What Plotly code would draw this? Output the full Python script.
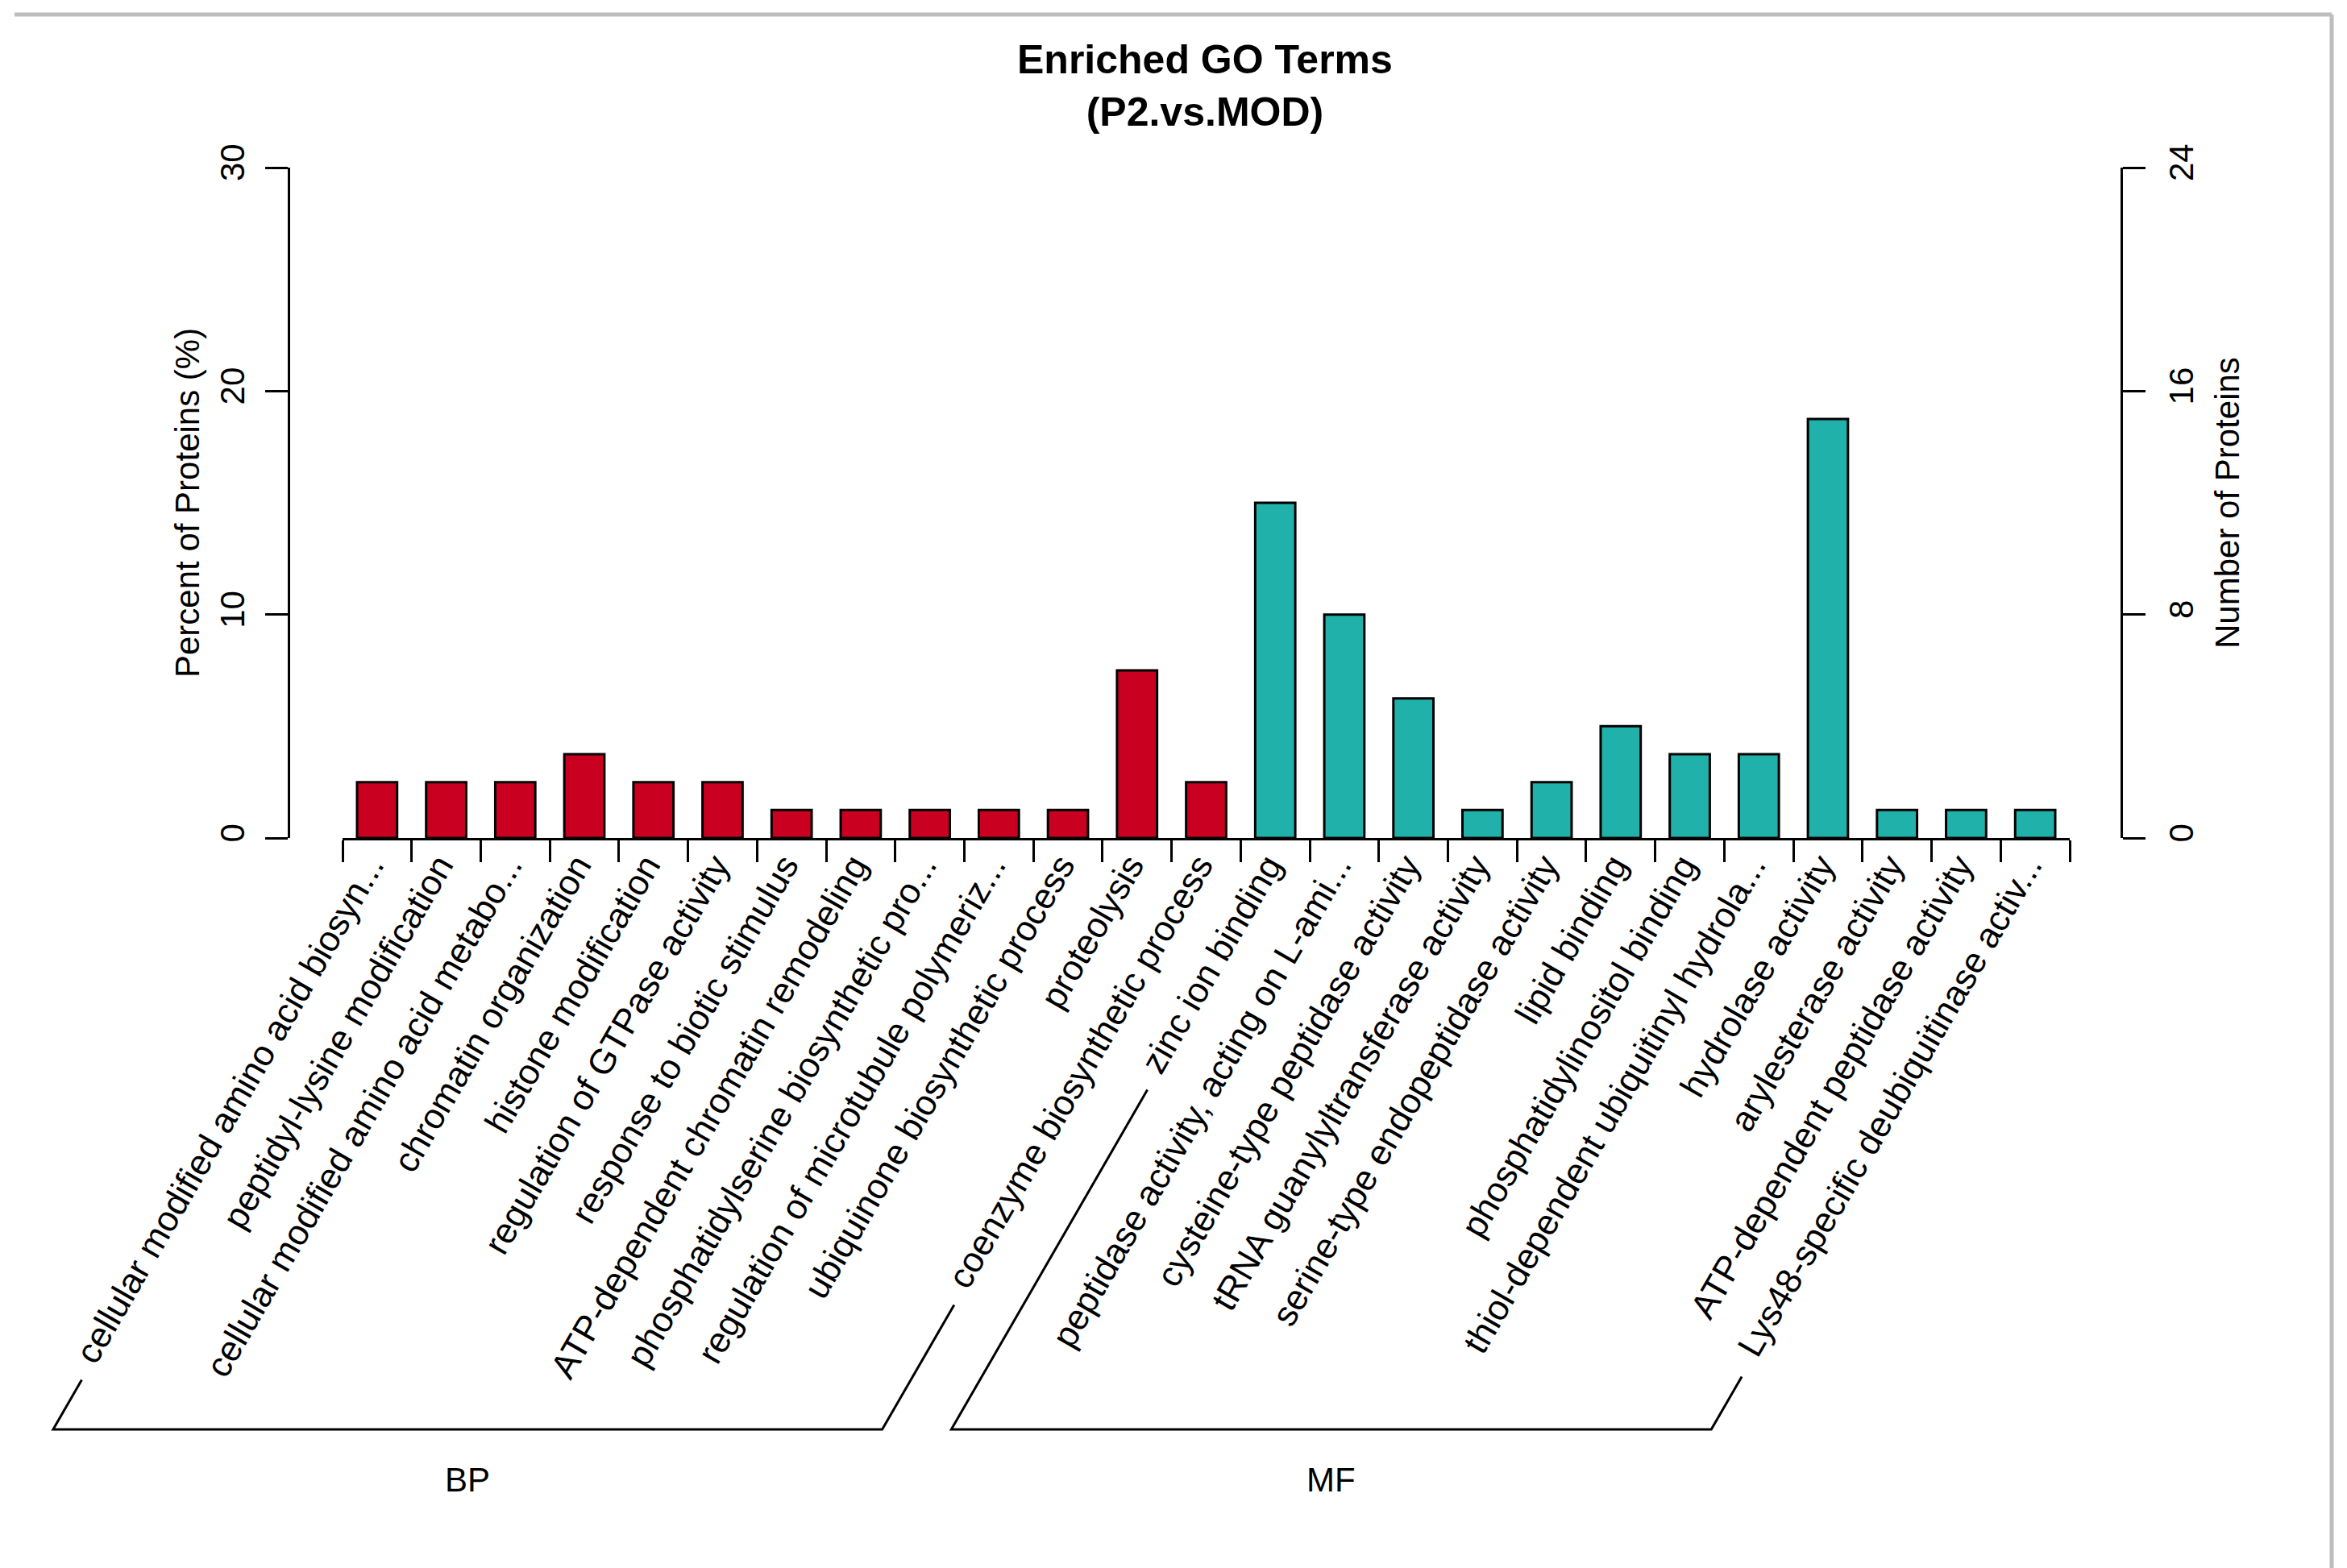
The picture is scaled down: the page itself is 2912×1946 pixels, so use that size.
import math
import plotly.graph_objects as go

# ---------------- data ----------------
terms = [
    "cellular modified amino acid biosyn...",
    "peptidyl-lysine modification",
    "cellular modified amino acid metabo...",
    "chromatin organization",
    "histone modification",
    "regulation of GTPase activity",
    "response to biotic stimulus",
    "ATP-dependent chromatin remodeling",
    "phosphatidylserine biosynthetic pro...",
    "regulation of microtubule polymeriz...",
    "ubiquinone biosynthetic process",
    "proteolysis",
    "coenzyme biosynthetic process",
    "zinc ion binding",
    "peptidase activity, acting on L-ami...",
    "cysteine-type peptidase activity",
    "tRNA guanylyltransferase activity",
    "serine-type endopeptidase activity",
    "lipid binding",
    "phosphatidylinositol binding",
    "thiol-dependent ubiquitinyl hydrola...",
    "hydrolase activity",
    "arylesterase activity",
    "ATP-dependent peptidase activity",
    "Lys48-specific deubiquitinase activ...",
]
groups = ["BP"] * 13 + ["MF"] * 12
percent = [2.5, 2.5, 2.5, 3.75, 2.5, 2.5, 1.25, 1.25, 1.25, 1.25, 1.25, 7.5, 2.5,
           15.0, 10.0, 6.25, 1.25, 2.5, 5.0, 3.75, 3.75, 18.75, 1.25, 1.25, 1.25]
left_ticks = [0, 10, 20, 30]
right_ticks = [0, 8, 16, 24]
group_names = ["BP", "MF"]

# ---------------- styles / layout constants ----------------
group_colors = {"BP": "#CA0020", "MF": "#20B2AA"}
W, H = 2912, 1946
PX0, PX1 = 358, 2632      # left / right y-axis pixel x
PY0, PY1 = 208, 1040      # top / bottom of plot area
AX0, AX1 = 425, 2568      # x-axis line extent
FS = 42                   # general text size
XFS = 44                  # category label size
FONT = "Liberation Sans, Arial, Helvetica, sans-serif"


def px2x(px):
    return (px - PX0) / (PX1 - PX0)


def py2y(py):
    return (PY1 - py) / (PY1 - PY0)


# Arial / Liberation Sans advance widths (per 1000 em) for bracket geometry
_w = {" ": 278, "-": 333, ".": 278, ",": 278, "4": 556, "8": 556}
for c, v in zip("ABCDEFGHIJKLMNOPQRSTUVWXYZ",
                [667, 667, 722, 722, 667, 611, 778, 722, 278, 500, 667, 556, 833,
                 722, 778, 667, 778, 722, 667, 611, 722, 667, 944, 667, 667, 611]):
    _w[c] = v
for c, v in zip("abcdefghijklmnopqrstuvwxyz",
                [556, 556, 500, 556, 556, 278, 556, 556, 222, 222, 500, 222, 833,
                 556, 556, 556, 556, 333, 500, 278, 556, 500, 722, 500, 500, 500]):
    _w[c] = v


def text_len(s, size):
    return sum(_w.get(ch, 556) for ch in s) / 1000.0 * size


fig = go.Figure()
fig.add_trace(go.Bar(
    x=terms, y=percent, width=0.58,
    marker=dict(color=[group_colors[g] for g in groups],
                line=dict(color="black", width=3)),
    showlegend=False, hoverinfo="x+y",
))
# empty trace so that the right-hand (count) axis is drawn
fig.add_trace(go.Scatter(x=[], y=[], yaxis="y2", showlegend=False, hoverinfo="skip"))

n = len(terms)
fig.update_layout(
    template="none",
    width=W, height=H,
    margin=dict(l=PX0, r=W - PX1, t=PY0, b=H - PY1, pad=0, autoexpand=False),
    paper_bgcolor="white", plot_bgcolor="white",
    font=dict(family=FONT, size=FS, color="black"),
    showlegend=False,
    xaxis=dict(
        type="category", domain=[px2x(AX0), px2x(AX1)], range=[-0.5, n - 0.5],
        anchor="y", showline=True, linecolor="black", linewidth=3,
        ticks="outside", tickson="boundaries", ticklen=27, tickwidth=3, tickcolor="black",
        tickangle=-60, ticklabelshift=-9, ticklabelstandoff=-12,
        tickfont=dict(family=FONT, size=XFS, color="black"),
        showgrid=False, zeroline=False, automargin=False, dtick=1,
    ),
    yaxis=dict(
        domain=[0, 1], anchor="free", position=0, range=[0, 30],
        tickmode="array", tickvals=left_ticks, ticktext=[str(v) for v in left_ticks],
        ticks="outside", ticklen=28, tickwidth=3, tickcolor="black",
        showline=True, linecolor="black", linewidth=3, ticklabelstandoff=9,
        tickangle=-90, tickfont=dict(family=FONT, size=FS, color="black"),
        showgrid=False, zeroline=False, automargin=False,
    ),
    yaxis2=dict(
        overlaying="y", side="right", anchor="free", position=1, range=[0, 24],
        tickmode="array", tickvals=right_ticks, ticktext=[str(v) for v in right_ticks],
        ticks="outside", ticklen=28, tickwidth=3, tickcolor="black",
        showline=True, linecolor="black", linewidth=3, ticklabelstandoff=9,
        tickangle=-90, tickfont=dict(family=FONT, size=FS, color="black"),
        showgrid=False, zeroline=False, automargin=False,
    ),
)

annotations = [
    dict(text="<b>Enriched GO Terms</b><br><b>(P2.vs.MOD)</b>", xref="paper", yref="paper",
         x=0.5, y=py2y(106), xanchor="center", yanchor="middle", showarrow=False,
         font=dict(family=FONT, size=50, color="black")),
    dict(text="Percent of Proteins (%)", xref="paper", yref="paper", x=px2x(232), y=0.5,
         textangle=-90, xanchor="center", yanchor="middle", showarrow=False,
         font=dict(family=FONT, size=FS, color="black")),
    dict(text="Number of Proteins", xref="paper", yref="paper", x=px2x(2763), y=0.5,
         textangle=-90, xanchor="center", yanchor="middle", showarrow=False,
         font=dict(family=FONT, size=FS, color="black")),
]

# group brackets under the rotated labels
pitch = (AX1 - AX0) / n
END_DX, END_Y = 8, 1064
GAP = 30
BRACKET_Y = 1774
ca, sa = math.cos(math.radians(60)), math.sin(math.radians(60))
shapes = []
for g in group_names:
    idx = [i for i, gg in enumerate(groups) if gg == g]
    pts = []
    for i in (idx[0], idx[-1]):
        ex = AX0 + (i + 0.5) * pitch + END_DX
        L = text_len(terms[i], XFS) + GAP
        tx, ty = ex - L * ca, END_Y + L * sa
        bx = tx - (BRACKET_Y - ty) / sa * ca
        pts.append(((tx, ty), (bx, BRACKET_Y)))
    (t1, b1), (t2, b2) = pts
    path = "M {} {} L {} {} L {} {} L {} {}".format(
        px2x(t1[0]), py2y(t1[1]), px2x(b1[0]), py2y(b1[1]),
        px2x(b2[0]), py2y(b2[1]), px2x(t2[0]), py2y(t2[1]))
    shapes.append(dict(type="path", path=path, xref="paper", yref="paper",
                       line=dict(color="black", width=3)))
    annotations.append(dict(text=g, xref="paper", yref="paper",
                            x=px2x((b1[0] + b2[0]) / 2), y=py2y(1836),
                            xanchor="center", yanchor="middle", showarrow=False,
                            font=dict(family=FONT, size=FS, color="black")))

# screenshot frame (top and right grey border)
shapes.append(dict(type="line", xref="paper", yref="paper",
                   x0=px2x(18), y0=py2y(18), x1=px2x(2893), y1=py2y(18),
                   line=dict(color="#BDBDBD", width=5)))
shapes.append(dict(type="line", xref="paper", yref="paper",
                   x0=px2x(2893), y0=py2y(18), x1=px2x(2893), y1=py2y(H),
                   line=dict(color="#BDBDBD", width=5)))

fig.update_layout(annotations=annotations, shapes=shapes)

fig.write_html("out.html", config={"displayModeBar": False},
               post_script="document.body.style.margin='0';document.body.style.padding='0';document.body.style.overflow='hidden';")
